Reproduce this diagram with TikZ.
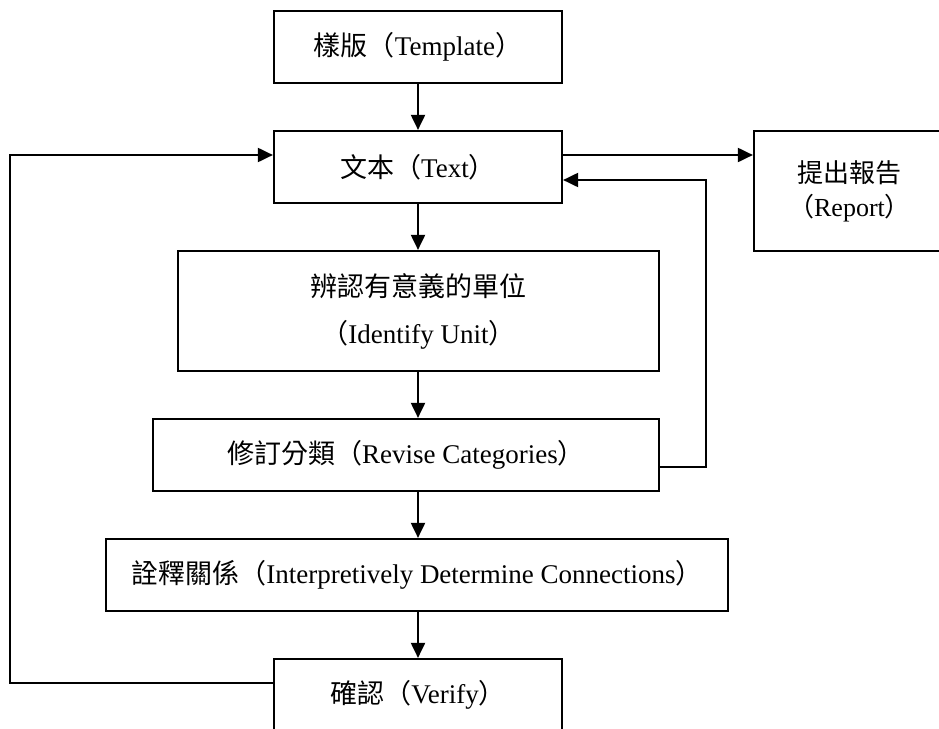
\documentclass[tikz,border=0pt]{standalone}
\usepackage{fontspec}
\setmainfont{Liberation Serif}
\newfontfamily\cjk{Noto Sans CJK TC}
\usetikzlibrary{arrows.meta}
\begin{document}
\begin{tikzpicture}[x=1pt,y=-1pt,
  box/.style={draw, line width=2.2pt, rectangle, inner sep=0pt, align=center,
    font=\fontsize{27}{32}\selectfont},
  conn/.style={line width=2pt, -{Triangle[length=15pt,width=14pt]}}]
\clip (0,0) rectangle (939,728);
\useasboundingbox (0,0) rectangle (939,728);
\node[box, minimum width=288pt, minimum height=72pt] (tmpl) at (418,47) {{\cjk 樣版（}Template{\cjk ）}};
\node[box, minimum width=288pt, minimum height=72pt] (text) at (418,167) {{\cjk 文本（}Text{\cjk ）}};
\node[box, minimum width=191pt, minimum height=120pt, font=\fontsize{26}{34}\selectfont] (report) at (849.5,191) {{\cjk 提出報告}\\{\cjk （}Report{\cjk ）}};
\node[box, minimum width=481pt, minimum height=120pt, font=\fontsize{27}{47}\selectfont] (ident) at (418.5,311) {{\cjk 辨認有意義的單位}\\{\cjk （}Identify Unit{\cjk ）}};
\node[box, minimum width=506pt, minimum height=72pt] (revise) at (406,455) {{\cjk 修訂分類（}Revise Categories{\cjk ）}};
\node[box, minimum width=622pt, minimum height=72pt] (interp) at (417,575) {{\cjk 詮釋關係（}Interpretively Determine Connections{\cjk ）}};
\node[box, minimum width=288pt, minimum height=72pt] (verify) at (418,695) {{\cjk 確認（}Verify{\cjk ）}};
\coordinate (lb) at (10,683);
\coordinate (lt) at (10,155);
\coordinate (rb) at (706,467);
\coordinate (rt) at (706,180);
\draw[conn] (tmpl.south) -- (text.north);
\draw[conn] (text.south) -- (text.south |- ident.north);
\draw[conn] (text.south |- ident.south) -- (text.south |- revise.north);
\draw[conn] (text.south |- revise.south) -- (text.south |- interp.north);
\draw[conn] (verify.north |- interp.south) -- (verify.north);
\draw[conn] (verify.west |- lb) -- (lb) -- (lt) -- (text.west |- lt);
\draw[conn] (text.east |- lt) -- (report.west |- lt);
\draw[conn] (revise.east |- rb) -- (rb) -- (rt) -- (text.east |- rt);
\end{tikzpicture}
\end{document}
